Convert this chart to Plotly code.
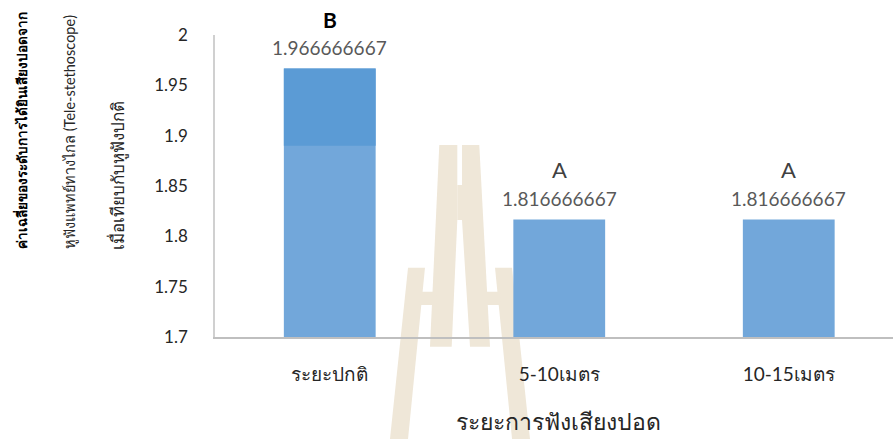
import plotly.graph_objects as go

categories = ["ระยะปกติ", "5-10เมตร", "10-15เมตร"]
values = [1.966666667, 1.816666667, 1.816666667]
value_labels = ["1.966666667", "1.816666667", "1.816666667"]
group_letters = ["B", "A", "A"]
dark_segment_base = [1.89]          # darker top segment of the first bar
y_ticks = [1.7, 1.75, 1.8, 1.85, 1.9, 1.95, 2.0]
y_tick_text = ["1.7", "1.75", "1.8", "1.85", "1.9", "1.95", "2"]
y_title_lines = ["ค่าเฉลี่ยของระดับการได้ยินเสียงปอดจาก",
                 "หูฟังแพทย์ทางไกล (Tele-stethoscope)",
                 "เมื่อเทียบกับหูฟังปกติ"]
x_title = "ระยะการฟังเสียงปอด"

W, H = 893, 439
L, R, T, B = 215, 0, 35, 102
PW, PH = W - L - R, H - T - B

def px(x):
    return (x - L) / PW

def py(y):
    return (H - B - y) / PH

FONT = "Lato, 'Noto Sans', sans-serif"

fig = go.Figure()
fig.add_trace(go.Bar(x=categories, y=[v - y_ticks[0] for v in values], base=y_ticks[0],
                     width=0.4, marker=dict(color="#72A7DA", line=dict(width=0)),
                     hoverinfo="skip"))
fig.add_trace(go.Bar(x=categories[:1], y=[values[0] - dark_segment_base[0]], base=dark_segment_base,
                     width=0.4, marker=dict(color="#5B9BD5", line=dict(width=0)),
                     hoverinfo="skip"))

annotations = []
for c, v, lab, g in zip(categories, values, value_labels, group_letters):
    annotations.append(dict(x=c, y=v, xref="x", yref="y", text=lab, showarrow=False,
                            yanchor="bottom", yshift=8,
                            font=dict(family=FONT, size=19, color="#595959")))
    bold = g == "B"
    annotations.append(dict(x=c, y=v, xref="x", yref="y",
                            text=f"<b>{g}</b>" if bold else g, showarrow=False,
                            yanchor="bottom", yshift=35,
                            font=dict(family=FONT, size=21 if bold else 22,
                                      color="#000000" if bold else "#404040")))

line_x = [20, 70, 117]
line_sizes = [13.5, 14.5, 17]
for i, (t, lx, fs) in enumerate(zip(y_title_lines, line_x, line_sizes)):
    annotations.append(dict(x=px(lx), y=py(251), xref="paper", yref="paper",
                            text=f"<b>{t}</b>" if i == 0 else t, showarrow=False,
                            textangle=-90, xanchor="center", yanchor="bottom",
                            font=dict(family=FONT, size=fs,
                                      color="#000000" if i == 0 else "#262626")))
annotations.append(dict(x=px(558), y=py(421), xref="paper", yref="paper", text=x_title,
                        showarrow=False, xanchor="center", yanchor="middle",
                        font=dict(family=FONT, size=23, color="#262626")))

# faint watermark decoration
WM = "#EFE7D8"
polys = [
    [(439.3, 145), (457.3, 145), (457.3, 220), (451.7, 346.7), (430, 346.7)],
    [(462, 145), (479.3, 145), (490, 346.7), (470, 346.7), (462, 220)],
    [(457.3, 185), (462, 185), (462, 220), (457.3, 220)],
    [(408, 267.7), (425, 267.7), (408, 439), (390, 439)],
    [(495, 267.7), (512, 267.7), (530, 439), (512, 439)],
    [(421, 291.7), (437, 291.7), (436, 305), (419, 305)],
    [(482, 291.7), (500, 291.7), (501, 305), (484, 305)],
]
shapes = []
for p in polys:
    path = "M " + " L ".join(f"{px(a):.4f},{py(b):.4f}" for a, b in p) + " Z"
    shapes.append(dict(type="path", path=path, xref="paper", yref="paper",
                       fillcolor=WM, line=dict(width=0), layer="below"))

fig.update_layout(
    width=W, height=H, margin=dict(l=L, r=R, t=T, b=B),
    paper_bgcolor="white", plot_bgcolor="rgba(0,0,0,0)",
    barmode="overlay", showlegend=False,
    annotations=annotations, shapes=shapes,
    font=dict(family=FONT, color="#262626"),
    xaxis=dict(range=[-0.5, -0.5 + PW / 229.5], showgrid=False, zeroline=False,
               showline=True, linecolor="#BFBFBF", linewidth=1.5,
               ticks="outside", ticklen=19, tickcolor="rgba(0,0,0,0)",
               tickfont=dict(family=FONT, size=19, color="#262626")),
    yaxis=dict(range=[1.7, 2.0], tickvals=y_ticks, ticktext=y_tick_text,
               showgrid=False, zeroline=False, showline=True,
               linecolor="#D0D0D0", linewidth=1.5,
               ticks="outside", ticklen=22, tickcolor="rgba(0,0,0,0)",
               tickfont=dict(family=FONT, size=17, color="#262626")),
)

fig.write_html("out.html")
